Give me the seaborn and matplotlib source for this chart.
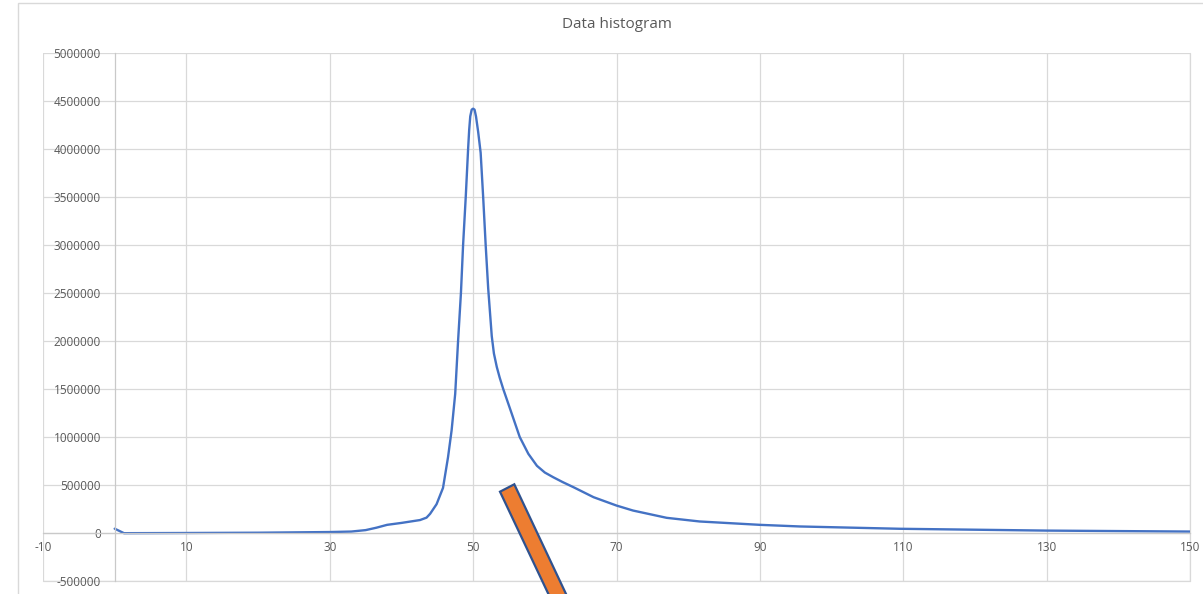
import matplotlib
matplotlib.use("Agg")
import matplotlib.pyplot as plt
import matplotlib.patches as mpatches
import matplotlib.ticker as mticker
import seaborn as sns
import pandas as pd

# ---- data ----
bin_x = [0, 1.3, 10, 20, 30, 33, 35, 36.5, 38, 40, 42.6, 43.5, 44, 44.9, 45.8, 46.5,
         47.0, 47.5, 47.9, 48.3, 48.6, 48.97, 49.3, 49.45, 49.6, 49.8, 50.0, 50.2,
         50.4, 50.7, 51.05, 51.4, 51.75, 52.1, 52.6, 52.9, 53.3, 53.7, 54.2, 55.4,
         56.5, 57.7, 58.9, 60.0, 61.2, 62.5, 64.0, 66.8, 70.0, 72.3, 77.0, 81.6,
         90.0, 95.6, 109.5, 130.0, 150.0]
counts = [45000, -2000, 0, 3000, 10000, 15000, 30000, 55000, 85000, 105000, 135000,
          160000, 200000, 300000, 470000, 790000, 1070000, 1450000, 2000000,
          2500000, 3000000, 3500000, 4000000, 4200000, 4340000, 4410000, 4420000,
          4410000, 4340000, 4180000, 3960000, 3500000, 3000000, 2550000, 2050000,
          1870000, 1730000, 1620000, 1500000, 1240000, 1000000, 825000, 700000,
          630000, 580000, 530000, 477000, 373000, 286000, 234000, 158000, 120000,
          85000, 68000, 44000, 25000, 15000]
x_ticks = [-10, 10, 30, 50, 70, 90, 110, 130, 150]
y_ticks = [-500000, 0, 500000, 1000000, 1500000, 2000000, 2500000, 3000000,
           3500000, 4000000, 4500000, 5000000]
title = "Data histogram"

df = pd.DataFrame({"x": bin_x, "y": counts})

sns.set_theme(style="white")
plt.rcParams["font.family"] = ["Open Sans", "DejaVu Sans"]
plt.rcParams["axes.unicode_minus"] = False

W, H = 1203, 594
fig = plt.figure(figsize=(W / 100, H / 100), dpi=100)

def fx(px):
    return px / W

def fy(py):
    return 1 - py / H

# chart area border (extends past the image edge)
fig.patches.append(mpatches.Rectangle((fx(18), fy(620)), fx(1230) - fx(18), fy(3) - fy(620),
                                      transform=fig.transFigure, fill=False,
                                      edgecolor="#d9d9d9", linewidth=1.0))

ax = fig.add_axes([fx(43), fy(581), fx(1190) - fx(43), fy(53) - fy(581)])
ax.set_facecolor("none")

sns.lineplot(data=df, x="x", y="y", ax=ax, color="#4472C4", linewidth=1.7, sort=False)
for ln in ax.get_lines():
    ln.set_solid_joinstyle("round")
    ln.set_solid_capstyle("round")

ax.set_xlim(x_ticks[0], x_ticks[-1])
ax.set_ylim(y_ticks[0], y_ticks[-1])
ax.set_xticks(x_ticks)
ax.set_yticks(y_ticks)
ax.yaxis.set_major_formatter(mticker.FuncFormatter(lambda v, p: f"{int(round(v))}"))
ax.xaxis.set_major_formatter(mticker.FuncFormatter(lambda v, p: f"{int(round(v))}"))
ax.grid(True, color="#d9d9d9", linewidth=0.9)
for gl in ax.get_xgridlines() + ax.get_ygridlines():
    gl.set_clip_on(False)
# explicit outer grid lines at the plot edges
ax.axhline(y_ticks[0], color="#d9d9d9", linewidth=0.9, clip_on=False, zorder=0.5)
ax.axvline(x_ticks[-1], color="#d9d9d9", linewidth=0.9, clip_on=False, zorder=0.5)
ax.set_axisbelow(True)
ax.set_xlabel("")
ax.set_ylabel("")

for s in ["top", "right"]:
    ax.spines[s].set_visible(False)
ax.spines["left"].set_position(("data", 0))
ax.spines["bottom"].set_position(("data", 0))
for s in ["left", "bottom"]:
    ax.spines[s].set_color("#c9c9c9")
    ax.spines[s].set_linewidth(0.9)

ax.tick_params(axis="both", length=0, labelsize=8.5, labelcolor="#595959")
ax.tick_params(axis="y", pad=10)
ax.tick_params(axis="x", pad=6)

fig.text(fx(617), fy(25), title, ha="center", va="center", fontsize=11, color="#595959")

# orange drawn shape overlay
shape = mpatches.Polygon([(fx(500), fy(491.7)), (fx(514.3), fy(484.3)),
                          (fx(578.3), fy(620)), (fx(564), fy(627))],
                         closed=True, transform=fig.transFigure,
                         facecolor="#ED7D31", edgecolor="#2F528F", linewidth=1.6,
                         zorder=10)
fig.patches.append(shape)

fig.savefig("out.png", dpi=100)
